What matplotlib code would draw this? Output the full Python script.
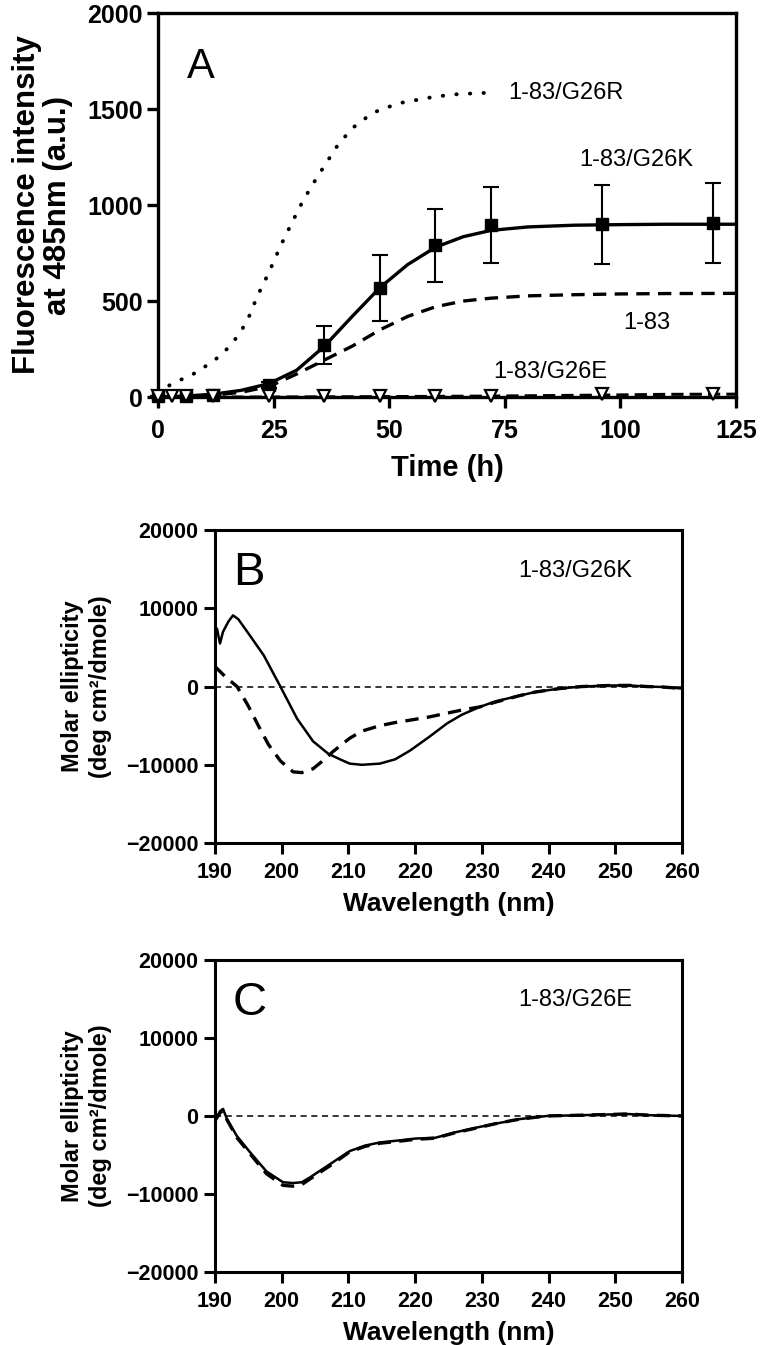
import numpy as np
import matplotlib
matplotlib.use("Agg")
import matplotlib.pyplot as plt

plt.rcParams['font.family'] = ['Liberation Sans', 'DejaVu Sans']

# ---- Panel A : ThT fluorescence vs time ----
time_pts = [0, 6, 12, 24, 36, 48, 60, 72, 96, 120]
g26k_mean = [5, 5, 10, 63, 271, 568, 790, 896, 900, 905]
g26k_err = [0, 0, 0, 15, 100, 170, 190, 200, 205, 208]

fit_t = [0, 6, 12, 18, 24, 30, 36, 42, 48, 54, 60, 66, 72, 80, 90, 100, 110, 125]
g26k_fit = [0, 5, 15, 35, 70, 140, 265, 420, 570, 690, 780, 835, 868, 886, 895, 898, 900, 900]
wt_fit = [0, 3, 10, 25, 55, 120, 193, 265, 350, 420, 470, 500, 515, 527, 533, 537, 539, 540]

g26r_t = [0, 2.6, 4.8, 7.3, 9.7, 12.3, 14.9, 17.7, 19.9, 21.4, 24, 26.6, 29, 31.1, 33, 35,
          38.9, 42, 46.4, 52, 60, 65, 70.6]
g26r_fit = [20, 63, 89, 115, 151, 193, 250, 330, 430, 521, 650, 792, 910, 1010, 1090, 1167,
            1313, 1400, 1480, 1530, 1565, 1578, 1584]

g26e_t = [0, 3, 6, 12, 24, 36, 48, 60, 72, 96, 120]
g26e_mean = [3, 3, 3, 3, 3, 3, 3, 3, 5, 15, 15]
g26e_line_t = [0, 24, 48, 72, 96, 110, 125]
g26e_line = [0, 0, 2, 5, 10, 14, 15]

# ---- Panel B : CD spectra 1-83/G26K (solid) and 1-83 (dashed) ----
wl_k = [190, 190.3, 190.75, 191.2, 192, 192.7, 193.5, 195, 197.3, 199.8, 202.3, 204.7, 207,
        209, 210.2, 212, 214.7, 217, 219.2, 222, 224.8, 227, 229.7, 232, 235.7, 238, 241.7,
        245, 248.8, 252, 254.8, 257, 260]
cd_k = [7000, 7400, 5500, 7000, 8300, 9100, 8600, 6800, 4000, 0, -4100, -7000, -8600,
        -9400, -9850, -10000, -9850, -9300, -8200, -6500, -4700, -3600, -2600, -1900, -1150,
        -700, -250, 0, 130, 150, 0, -50, -250]
wl_wt = [190, 191.5, 193.3, 195, 196.5, 198, 199.8, 201.7, 203, 204.7, 206, 207.7, 209,
         210.2, 212, 214.7, 217, 219.2, 222, 224.8, 227, 229.7, 232, 235.7, 238, 241.7, 245,
         248.8, 252, 254.8, 257, 260]
cd_wt = [2560, 1300, 0, -2500, -5000, -7400, -9500, -10900, -11000, -10500, -9600, -8300,
         -7400, -6600, -5700, -5000, -4600, -4300, -3900, -3400, -3000, -2600, -2000, -1150,
         -700, -250, 0, 130, 150, 0, -50, -250]

# ---- Panel C : CD spectra 1-83/G26E ----
wl_e = [190, 190.75, 191.2, 191.8, 193.3, 195.2, 197.7, 200.2, 201.7, 203, 204.2, 207.2,
        210.2, 212.5, 214.7, 218, 220, 223, 226, 229.7, 232, 235.7, 239.8, 245, 251.8, 255, 260]
cd_e = [-600, 600, 900, -400, -2600, -4600, -7100, -8500, -8600, -8500, -7900, -6200, -4500,
        -3800, -3400, -3100, -2900, -2800, -2100, -1400, -1000, -400, 0, 100, 250, 100, 0]
cd_e2 = [-600, 400, 700, -500, -2800, -4800, -7400, -8900, -9000, -8800, -8100, -6400, -4600,
         -3900, -3500, -3200, -3000, -2850, -2150, -1450, -1000, -400, 0, 100, 250, 100, 0]

fig = plt.figure(figsize=(7.6, 13.45), dpi=100)


def style_axes(ax, lw=2.2, pad=3):
    for s in ax.spines.values():
        s.set_linewidth(lw)
    ax.tick_params(direction='out', length=8, width=lw, pad=pad)
    for lab in ax.get_xticklabels() + ax.get_yticklabels():
        lab.set_fontweight('bold')


# Panel A
axA = fig.add_axes([0.2079, 0.7048, 0.7605, 0.2855])
axA.plot(g26r_t, g26r_fit, color='black', lw=2.8, linestyle=(0, (0.1, 3.4)),
         dash_capstyle='round')
axA.plot(fit_t, wt_fit, color='black', lw=2.4, linestyle=(0, (4, 2.5)))
axA.plot(fit_t, g26k_fit, color='black', lw=2.4)
axA.errorbar(time_pts, g26k_mean, yerr=g26k_err, fmt='s', color='black', ms=9,
             capsize=6, elinewidth=1.5, capthick=1.5, clip_on=False, zorder=4)
axA.plot(g26e_line_t, g26e_line, color='black', lw=2.2, linestyle=(0, (4, 2)))
axA.plot(g26e_t, g26e_mean, 'v', mfc='white', mec='black', mew=1.6, ms=8,
         clip_on=False, zorder=5)
axA.set_xlim(0, 125)
axA.set_ylim(0, 2000)
axA.set_xticks([0, 25, 50, 75, 100, 125])
axA.set_yticks([0, 500, 1000, 1500, 2000])
axA.tick_params(labelsize=18)
style_axes(axA, 2.4)
axA.tick_params(axis='x', pad=8)
axA.set_xlabel('Time (h)', fontsize=21, fontweight='bold', labelpad=8)
axA.set_ylabel('Fluorescence intensity\nat 485nm (a.u.)', fontsize=22.5,
               fontweight='bold', labelpad=10, linespacing=1.05)
axA.text(6.3, 1719, 'A', fontsize=30, va='center', ha='left')
axA.text(75.7, 1583, '1-83/G26R', fontsize=17, va='center', ha='left')
axA.text(91, 1234, '1-83/G26K', fontsize=17, va='center', ha='left')
axA.text(100.6, 385, '1-83', fontsize=17, va='center', ha='left')
axA.text(72.4, 130, '1-83/G26E', fontsize=17, va='center', ha='left')


def cd_panel(rect, letter, label, curves):
    ax = fig.add_axes(rect)
    ax.axhline(0, color='black', lw=1.1, linestyle=(0, (4, 3)))
    for x, y, ls, lw in curves:
        ax.plot(x, y, color='black', lw=lw, linestyle=ls)
    ax.set_xlim(190, 260)
    ax.set_ylim(-20000, 20000)
    ax.set_xticks(range(190, 261, 10))
    ax.set_yticks([-20000, -10000, 0, 10000, 20000])
    ax.tick_params(labelsize=15.5)
    style_axes(ax, 2.2, pad=4)
    ax.tick_params(axis='x', pad=6)
    ax.set_xlabel('Wavelength (nm)', fontsize=19, fontweight='bold', labelpad=6)
    ax.set_ylabel('Molar ellipticity\n(deg cm²/dmole)', fontsize=17,
                  fontweight='bold', labelpad=10, linespacing=1.25)
    ax.text(192.7, 14500, letter, fontsize=34, va='center', ha='left')
    ax.text(235.5, 14800, label, fontsize=17, va='center', ha='left')
    return ax


cd_panel([0.2829, 0.3732, 0.6145, 0.2327], 'B', '1-83/G26K',
         [(wl_k, cd_k, '-', 1.8), (wl_wt, cd_wt, (0, (4, 2.5)), 2.4)])
cd_panel([0.2829, 0.0543, 0.6145, 0.2320], 'C', '1-83/G26E',
         [(wl_e, cd_e2, (0, (4, 2.5)), 2.4), (wl_e, cd_e, '-', 1.8)])

fig.savefig('out.png', dpi=100)
